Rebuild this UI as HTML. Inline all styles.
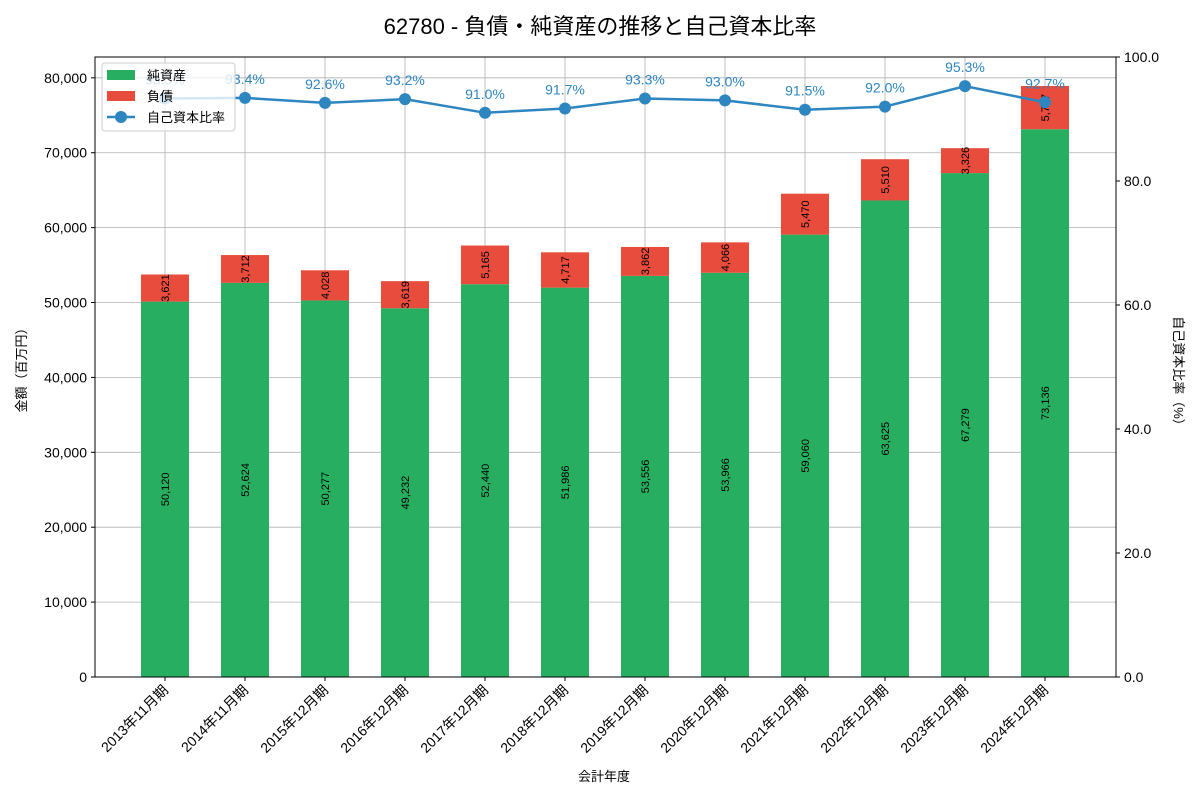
<!DOCTYPE html>
<html><head><meta charset="utf-8"><style>
body{margin:0;background:#fff;}
svg text{font-family:"Liberation Sans","Noto Sans CJK JP",sans-serif;}
</style></head><body>
<svg id="c" width="1200" height="800" xmlns="http://www.w3.org/2000/svg"></svg>
<script>
const categories=["2013年11月期","2014年11月期","2015年12月期","2016年12月期","2017年12月期","2018年12月期","2019年12月期","2020年12月期","2021年12月期","2022年12月期","2023年12月期","2024年12月期"];
const netAssets=[50120,52624,50277,49232,52440,51986,53556,53966,59060,63625,67279,73136];
const debts=[3621,3712,4028,3619,5165,4717,3862,4066,5470,5510,3326,5777];
const ratios=[93.3,93.4,92.6,93.2,91.0,91.7,93.3,93.0,91.5,92.0,95.3,92.7];
const leftTicks=[0,10000,20000,30000,40000,50000,60000,70000,80000];
const rightTicks=[0,20,40,60,80,100];
const NS="http://www.w3.org/2000/svg",svg=document.getElementById('c');
const L=95,R=1116,T=57,B=677;
const yL=v=>B-v*(B-T)/82780, yR=v=>B-v*(B-T)/100, xC=i=>165+80*i;
function mk(tag,a,txt,parent){const e=document.createElementNS(NS,tag);for(const k in a)e.setAttribute(k,a[k]);if(txt!==undefined)e.textContent=txt;(parent||svg).appendChild(e);return e;}
const fmt=v=>v.toLocaleString('en-US');
// grid
leftTicks.forEach(v=>{const g=mk('line',{x1:L,x2:R,y1:yL(v),y2:yL(v),stroke:'#b0b0b0','stroke-width':0.8});

const t=mk('text',{x:L-8,y:yL(v)+5,'text-anchor':'end','font-size':14},fmt(v));

mk('line',{x1:L-4,x2:L,y1:yL(v),y2:yL(v),stroke:'#000'});});
categories.forEach((c,i)=>{const g=mk('line',{x1:xC(i),x2:xC(i),y1:T,y2:B,stroke:'#b0b0b0','stroke-width':0.8});
});
// bars
categories.forEach((c,i)=>{const x=xC(i)-24;
const g=mk('rect',{x:x,y:yL(netAssets[i]),width:48,height:B-yL(netAssets[i]),fill:'#27ae60'});

const r=mk('rect',{x:x,y:yL(netAssets[i]+debts[i]),width:48,height:yL(netAssets[i])-yL(netAssets[i]+debts[i]),fill:'#e74c3c'});

let ym=yL(netAssets[i]/2);
const t1=mk('text',{x:0,y:0,'font-size':11,'text-anchor':'middle',transform:`translate(${xC(i)+4},${ym}) rotate(-90)`},fmt(netAssets[i]));

let yd=yL(netAssets[i]+debts[i]/2);
const t2=mk('text',{x:0,y:0,'font-size':11,'text-anchor':'middle',transform:`translate(${xC(i)+4},${yd}) rotate(-90)`},fmt(debts[i]));

mk('line',{x1:xC(i),x2:xC(i),y1:B,y2:B+4,stroke:'#000'});
const xl=mk('text',{x:0,y:0,'font-size':14,'text-anchor':'end',transform:`translate(${xC(i)+4},${B+14}) rotate(-45)`},c);
});
// line
const pl=mk('polyline',{points:ratios.map((v,i)=>xC(i)+','+yR(v)).join(' '),fill:'none',stroke:'#2e86c1','stroke-width':2.5});

ratios.forEach((v,i)=>{const p=mk('circle',{cx:xC(i),cy:yR(v),r:6,fill:'#2e86c1'});

const t=mk('text',{x:xC(i),y:yR(v)-14,'font-size':14,fill:'#2e86c1','text-anchor':'middle'},v.toFixed(1)+'%');
});
// right axis
rightTicks.forEach(v=>{mk('line',{x1:R,x2:R+4,y1:yR(v),y2:yR(v),stroke:'#000'});
const t=mk('text',{x:R+8,y:yR(v)+5,'font-size':14},v.toFixed(1));
});
const fr=mk('rect',{x:L,y:T,width:R-L,height:B-T,fill:'none',stroke:'#000','stroke-width':1});

// titles
let t;
t=mk('text',{x:600,y:34,'font-size':22,'text-anchor':'middle'},'62780 - 負債・純資産の推移と自己資本比率');
t=mk('text',{x:604,y:781,'font-size':13,'text-anchor':'middle'},'会計年度');
t=mk('text',{x:0,y:0,'font-size':13,'text-anchor':'middle',transform:'translate(26,367) rotate(-90)'},'金額（百万円）');
t=mk('text',{x:0,y:0,'font-size':13,'text-anchor':'middle',transform:'translate(1174,374) rotate(90)'},'自己資本比率（%）');
// legend
const lg=mk('g',{});
mk('rect',{x:102,y:63,width:133,height:68,rx:3,fill:'rgba(255,255,255,0.8)',stroke:'#ccc'},undefined,lg);
mk('rect',{x:107,y:70,width:28,height:10,fill:'#27ae60'},undefined,lg);
mk('text',{x:147,y:80,'font-size':13},'純資産',lg);
mk('rect',{x:107,y:91,width:28,height:10,fill:'#e74c3c'},undefined,lg);
mk('text',{x:147,y:101,'font-size':13},'負債',lg);
mk('line',{x1:107,x2:135,y1:117,y2:117,stroke:'#2e86c1','stroke-width':2.5},undefined,lg);
mk('circle',{cx:121,cy:117,r:6,fill:'#2e86c1'},undefined,lg);
mk('text',{x:147,y:122,'font-size':13},'自己資本比率',lg);
</script>
</body></html>
